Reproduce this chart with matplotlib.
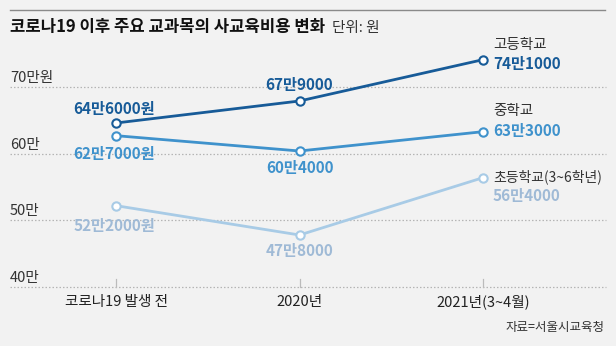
import matplotlib
matplotlib.use("Agg")
import matplotlib.pyplot as plt

plt.rcParams['font.family'] = ['Noto Sans CJK KR', 'DejaVu Sans']

title = "코로나19 이후 주요 교과목의 사교육비용 변화"
unit = "단위: 원"
source = "자료=서울시교육청"
periods = ["코로나19 발생 전", "2020년", "2021년(3~4월)"]
series_names = ["고등학교", "중학교", "초등학교(3~6학년)"]
high = [64.6, 67.9, 74.1]
middle = [62.7, 60.4, 63.3]
elem = [52.2, 47.8, 56.4]
high_labels = ["64만6000원", "67만9000", "74만1000"]
middle_labels = ["62만7000원", "60만4000", "63만3000"]
elem_labels = ["52만2000원", "47만8000", "56만4000"]
yticks = [40, 50, 60, 70]
ytick_labels = ["40만", "50만", "60만", "70만원"]

bg = "#f2f2f2"
c_high = "#175b98"
c_mid = "#3f92cc"
c_elem = "#a8cbe6"
c_elem_txt = "#9fbad6"

W, H = 616, 346
fig = plt.figure(figsize=(W / 100, H / 100), dpi=100, facecolor=bg)
ax = fig.add_axes([0, 0, 1, 1])
ax.set_facecolor(bg)
ax.axis("off")

# pixel mapping: x index 0 -> 116px, spacing 183.5px ; y 70 -> 87px, 6.667 px/unit
x0, dx = 116, 183.5
y70, dy = 87, 6.667
ax.set_xlim(-x0 / dx, (W - x0) / dx)
ax.set_ylim(70 - (H - y70) / dy, 70 + y70 / dy)

xs = list(range(len(periods)))

# gridlines
for yv, lab in zip(yticks, ytick_labels):
    ax.axhline(yv, xmin=10 / W, xmax=606 / W, color="#b5b5b5", lw=0.9,
               ls=(0, (1.2, 1.6)), zorder=1)
    ax.text(-x0 / dx + 10 / dx, yv + 2 / dy, lab, ha="left", va="bottom",
            fontsize=10.5, color="#333333")

# ticks on bottom line
for x in xs:
    ax.plot([x, x], [40, 40 + 8 / dy], color="#bbbbbb", lw=0.9, zorder=1)

# top rule
fig.add_artist(plt.Line2D([10 / W, 605 / W], [1 - 10 / H, 1 - 10 / H],
                          color="#8a8a8a", lw=1.0))

for vals, col in [(elem, c_elem), (middle, c_mid), (high, c_high)]:
    ax.plot(xs, vals, color=col, lw=2.0, zorder=3,
            marker="o", ms=6, mfc="white", mec=col, mew=1.5)

fs_val = 11
wv = "bold"
# high school labels
ax.text(0 - 2 / dx, high[0] + 14 / dy, high_labels[0], ha="center", va="center",
        fontsize=fs_val, color=c_high, fontweight=wv)
ax.text(1, high[1] + 16 / dy, high_labels[1], ha="center", va="center",
        fontsize=fs_val, color=c_high, fontweight=wv)
ax.text(2 + 10 / dx, high[2] - 4 / dy, high_labels[2], ha="left", va="center",
        fontsize=fs_val, color=c_high, fontweight=wv)
ax.text(2 + 10 / dx, high[2] + 15 / dy, series_names[0], ha="left", va="center",
        fontsize=10.5, color="#333333")

# middle school labels
ax.text(0 - 2 / dx, middle[0] - 18 / dy, middle_labels[0], ha="center", va="center",
        fontsize=fs_val, color=c_mid, fontweight=wv)
ax.text(1, middle[1] - 17 / dy, middle_labels[1], ha="center", va="center",
        fontsize=fs_val, color=c_mid, fontweight=wv)
ax.text(2 + 10 / dx, middle[2] + 1 / dy, middle_labels[2], ha="left", va="center",
        fontsize=fs_val, color=c_mid, fontweight=wv)
ax.text(2 + 10 / dx, middle[2] + 21 / dy, series_names[1], ha="left", va="center",
        fontsize=10.5, color="#333333")

# elementary labels
ax.text(0 - 2 / dx, elem[0] - 20 / dy, elem_labels[0], ha="center", va="center",
        fontsize=fs_val, color=c_elem_txt, fontweight=wv)
ax.text(1, elem[1] - 16 / dy, elem_labels[1], ha="center", va="center",
        fontsize=fs_val, color=c_elem_txt, fontweight=wv)
ax.text(2 + 10 / dx, elem[2] - 18 / dy, elem_labels[2], ha="left", va="center",
        fontsize=fs_val, color=c_elem_txt, fontweight=wv)
ax.text(2 + 10 / dx, elem[2] + 0.5 / dy, series_names[2], ha="left", va="center",
        fontsize=10, color="#333333")

# x labels
for x, lab in zip(xs, periods):
    ax.text(x, 40 - 15 / dy, lab, ha="center", va="center", fontsize=10.5,
            color="#222222")

# title
t = fig.text(10 / W, 1 - 27 / H, title, ha="left", va="center", fontsize=12,
             fontweight="bold", color="#111111")
fig.canvas.draw()
bb = t.get_window_extent()
fig.text((bb.x1 + 7) / W, 1 - 28 / H, unit, ha="left", va="center", fontsize=10.5,
         color="#333333")
fig.text(605 / W, 1 - 327 / H, source, ha="right", va="center", fontsize=9,
         color="#333333")

fig.savefig("out.png", dpi=100, facecolor=bg)
